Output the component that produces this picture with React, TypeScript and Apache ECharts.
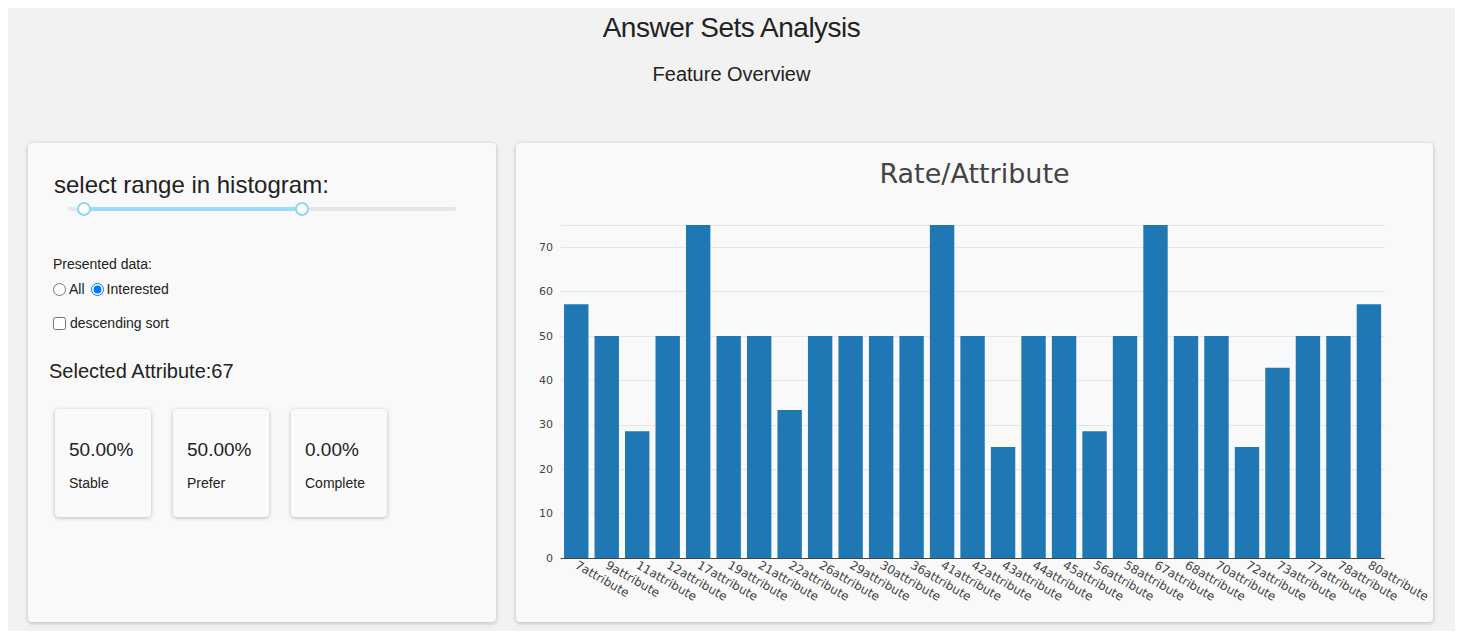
import { useEffect, useRef } from "react";
import * as echarts from "echarts";

const categories = [
  "7attribute", "9attribute", "11attribute", "12attribute", "17attribute", "19attribute",
  "21attribute", "22attribute", "26attribute", "29attribute", "30attribute", "36attribute",
  "41attribute", "42attribute", "43attribute", "44attribute", "45attribute", "56attribute",
  "58attribute", "67attribute", "68attribute", "70attribute", "72attribute", "73attribute",
  "77attribute", "78attribute", "80attribute",
];
const rates = [
  57.14, 50, 28.57, 50, 75, 50, 50, 33.33, 50, 50, 50, 50, 75, 50, 25, 50, 50, 28.57,
  50, 75, 50, 50, 25, 42.86, 50, 50, 57.14,
];
const stats = [
  { value: "50.00%", label: "Stable" },
  { value: "50.00%", label: "Prefer" },
  { value: "0.00%", label: "Complete" },
];

const card: React.CSSProperties = {
  position: "absolute",
  background: "#f9f9f9",
  borderRadius: 4,
  boxShadow: "0 1px 4px rgba(0,0,0,0.25)",
};

const RateChart = () => {
  const ref = useRef<HTMLDivElement>(null);

  useEffect(() => {
    if (!ref.current) return;
    const chart = echarts.init(ref.current, undefined, { renderer: "svg" });
    chart.setOption({
      animation: false,
      title: {
        text: "Rate/Attribute",
        left: "center",
        top: 12,
        textStyle: { fontFamily: "DejaVu Sans", fontSize: 27, fontWeight: "normal", color: "#444" },
      },
      grid: { left: 45, right: 45, top: 82, bottom: 64 },
      xAxis: {
        type: "category",
        data: categories,
        axisTick: { show: false },
        axisLine: { lineStyle: { color: "#444" } },
        axisLabel: {
          interval: 0,
          rotate: -30,
          color: "#444",
          fontSize: 12,
          fontFamily: "DejaVu Sans",
          margin: 6,
          align: "left",
        },
      },
      yAxis: {
        type: "value",
        min: 0,
        max: 75,
        interval: 10,
        axisLabel: {
          color: "#444",
          fontSize: 11,
          fontFamily: "DejaVu Sans",
          formatter: (v: number) => (v > 70 ? "" : String(v)),
        },
        splitLine: { lineStyle: { color: "#e6e6e6" } },
      },
      series: [
        {
          type: "bar",
          data: rates,
          barCategoryGap: "20%",
          itemStyle: { color: "#1f77b4" },
        },
      ],
    });
    return () => chart.dispose();
  }, []);

  return <div ref={ref} style={{ width: "100%", height: "100%" }} />;
};

const App = () => (
  <div
    style={{
      position: "relative",
      width: 1463,
      height: 639,
      margin: -8,
      background: "#f2f2f2",
      fontFamily: "Liberation Sans, Arial, sans-serif",
      color: "#222",
      overflow: "hidden",
    }}
  >
    <div style={{ position: "absolute", top: 12, width: "100%", textAlign: "center", fontSize: 28, letterSpacing: -0.5 }}>
      Answer Sets Analysis
    </div>
    <div style={{ position: "absolute", top: 63, width: "100%", textAlign: "center", fontSize: 20 }}>
      Feature Overview
    </div>

    <div style={{ ...card, left: 28, top: 143, width: 468, height: 479 }}>
      <div style={{ position: "absolute", left: 26, top: 28, fontSize: 24 }}>select range in histogram:</div>
      <div style={{ position: "absolute", left: 40, top: 64, width: 388, height: 4, background: "#e6e6e6", borderRadius: 2 }} />
      <div style={{ position: "absolute", left: 56, top: 64, width: 218, height: 4, background: "#9cdcf4" }} />
      {[56, 274].map((x) => (
        <div
          key={x}
          style={{
            position: "absolute", left: x - 7, top: 59, width: 10, height: 10,
            borderRadius: "50%", border: "2px solid #8fd6f2", background: "#fff",
          }}
        />
      ))}
      <div style={{ position: "absolute", left: 25, top: 113, fontSize: 14 }}>Presented data:</div>
      <div style={{ position: "absolute", left: 22, top: 138, fontSize: 14, display: "flex", alignItems: "center" }}>
        <input type="radio" name="d" style={{ margin: "0 3px 0 3px" }} readOnly /> All
        <input type="radio" name="d" defaultChecked style={{ margin: "0 3px 0 6px" }} readOnly /> Interested
      </div>
      <div style={{ position: "absolute", left: 22, top: 172, fontSize: 14, display: "flex", alignItems: "center" }}>
        <input type="checkbox" style={{ margin: "0 4px 0 3px" }} readOnly /> descending sort
      </div>
      <div style={{ position: "absolute", left: 21, top: 217, fontSize: 20 }}>Selected Attribute:67</div>
      {stats.map((s, i) => (
        <div
          key={s.label}
          style={{ ...card, left: 27 + i * 118, top: 266, width: 96, height: 108, background: "#fafafa" }}
        >
          <div style={{ position: "absolute", left: 14, top: 30, fontSize: 19 }}>{s.value}</div>
          <div style={{ position: "absolute", left: 14, top: 66, fontSize: 14 }}>{s.label}</div>
        </div>
      ))}
    </div>

    <div style={{ ...card, left: 516, top: 143, width: 917, height: 479 }}>
      <RateChart />
    </div>
  </div>
);

export default App;
